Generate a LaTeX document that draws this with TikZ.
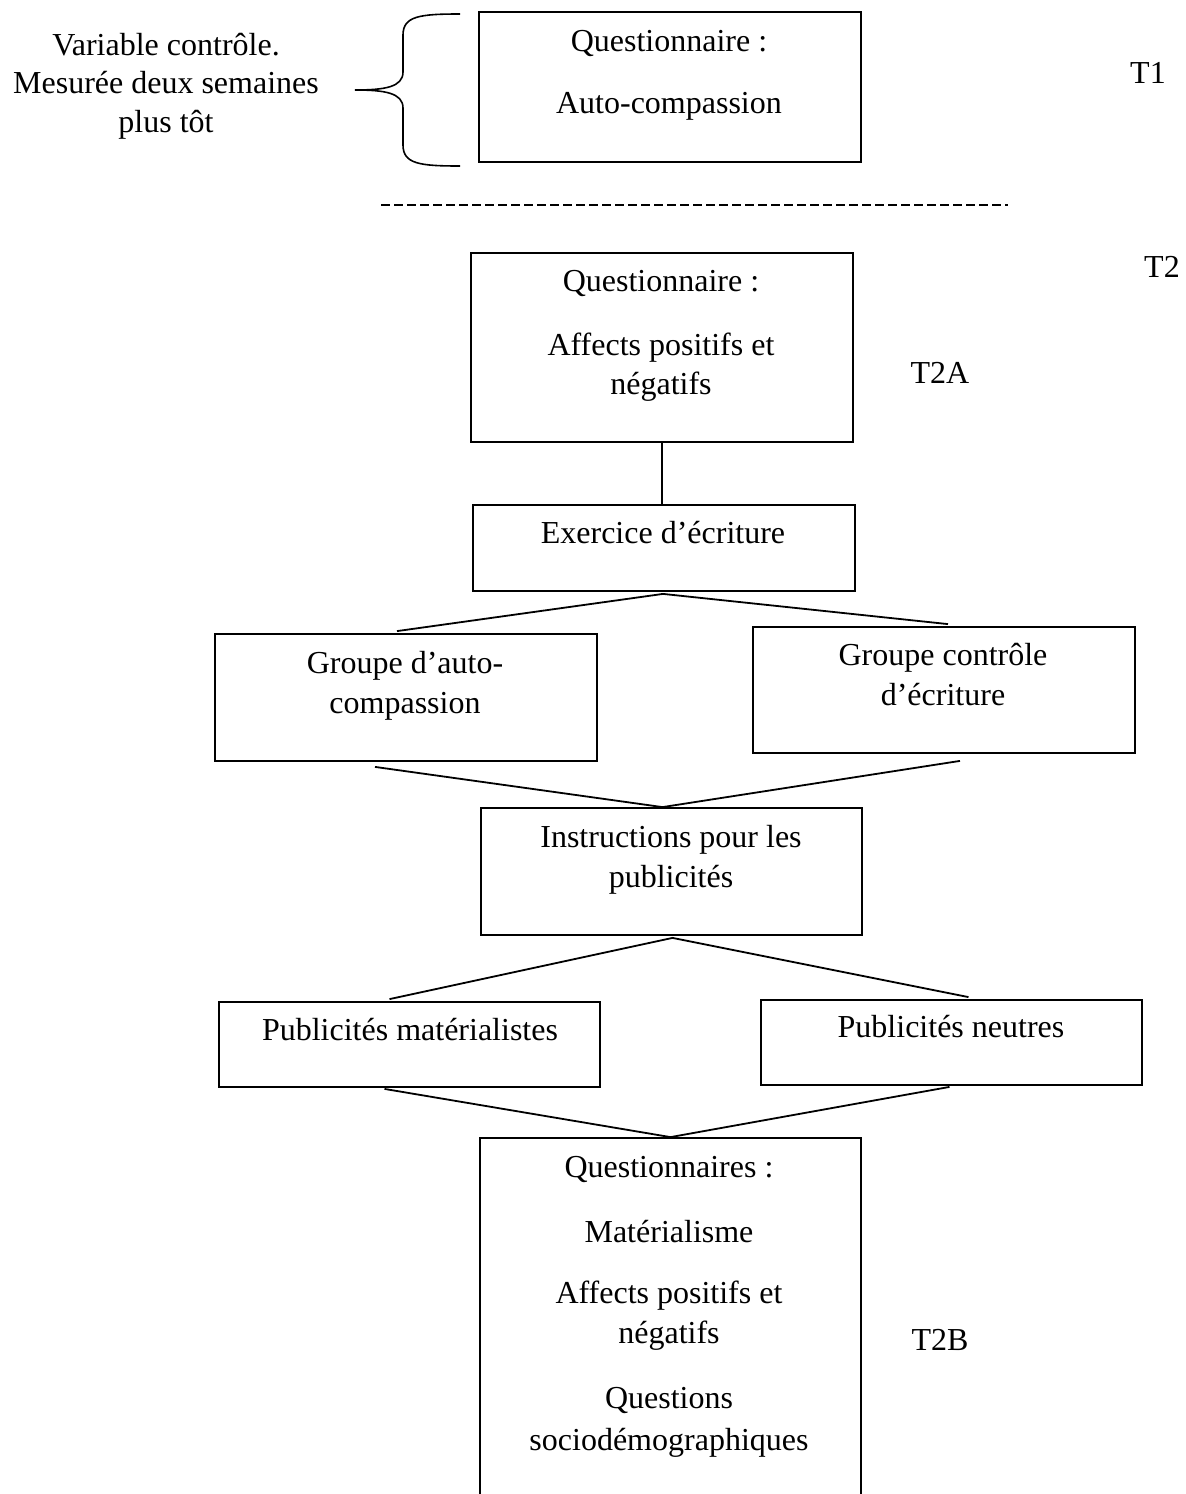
\documentclass[tikz,border=0pt]{standalone}
\usepackage{fontspec}
\setmainfont{Liberation Serif}
\usetikzlibrary{calc}
\begin{document}
\begin{tikzpicture}[x=1pt,y=-1pt,
  box/.style={draw, line width=1.8pt, inner sep=0pt, minimum width=382pt},
  txt/.style={inner sep=0pt, anchor=base, font=\fontsize{32}{40}\selectfont},
  conn/.style={line width=1.8pt}]
\useasboundingbox (0,0) rectangle (1186,1494);
% boxes
\node[box, minimum height=150pt] (q1) at (670,87) {};
\node[box, minimum height=189pt] (q2) at (662,347.5) {};
\node[box, minimum height=86pt] (ex) at (664,548) {};
\node[box, minimum height=127pt] (ga) at (406,697.5) {};
\node[box, minimum height=126pt] (gc) at (944,690) {};
\node[box, minimum width=381pt, minimum height=127pt] (ins) at (671.5,871.5) {};
\node[box, minimum width=381pt, minimum height=85pt] (pm) at (409.5,1044.5) {};
\node[box, minimum width=381pt, minimum height=85pt] (pn) at (951.5,1042.5) {};
\node[box, minimum width=381pt, minimum height=400pt] (qb) at (670.5,1338) {};
% texts in boxes
\node[txt] (q1a) at (669,51) {Questionnaire :};
\node[txt] (q1b) at (669,113) {Auto-compassion};
\node[txt] (q2a) at (661,291) {Questionnaire :};
\node[txt] (q2b) at (661,355) {Affects positifs et};
\node[txt] (q2c) at (661,394) {négatifs};
\node[txt] (exa) at (663,543) {Exercice d’écriture};
\node[txt] (gaa) at (405,673) {Groupe d’auto-};
\node[txt] (gab) at (405,713) {compassion};
\node[txt] (gca) at (943,665) {Groupe contrôle};
\node[txt] (gcb) at (943,705) {d’écriture};
\node[txt] (insa) at (671,847) {Instructions pour les};
\node[txt] (insb) at (671,887) {publicités};
\node[txt] (pma) at (410,1040) {Publicités matérialistes};
\node[txt] (pna) at (951,1037) {Publicités neutres};
\node[txt] (qba) at (669,1177) {Questionnaires :};
\node[txt] (qbb) at (669,1242) {Matérialisme};
\node[txt] (qbc) at (669,1303) {Affects positifs et};
\node[txt] (qbd) at (669,1343) {négatifs};
\node[txt] (qbe) at (669,1408) {Questions};
\node[txt] (qbf) at (669,1450) {sociodémographiques};
% side labels
\node[txt] (v1) at (166,55) {Variable contrôle.};
\node[txt] (v2) at (166,93) {Mesurée deux semaines};
\node[txt] (v3) at (166,132) {plus tôt};
\node[txt] (t1) at (1148,83) {T1};
\node[txt] (t2) at (1162,277) {T2};
\node[txt] (t2a) at (940,383) {T2A};
\node[txt] (t2b) at (940,1350) {T2B};
% brace
\draw[line width=1.6pt] (460,14) .. controls (420,14) and (403,16) .. (403,35)
  -- (403,72) .. controls (403,87) and (385,90) .. (355,90)
  .. controls (385,90) and (403,93) .. (403,108)
  -- (403,145) .. controls (403,164) and (420,166) .. (460,166);
% dashed separator
\coordinate (d1) at (381,205);
\coordinate (d2) at (1008,205);
\draw[line width=2pt, dash pattern=on 9pt off 4pt] (d1) -- (d2);
% connectors
\draw[conn] (q2.south) -- (q2.south |- ex.north);
\draw[conn] ($(ga.north)+(-9,-2)$) -- ($(ex.south)+(-1,2)$) -- ($(gc.north)+(4,-2)$);
\draw[conn] ($(ga.south)+(-31,5)$) -- ($(ins.north)+(-9,0)$) -- ($(gc.south)+(16,7)$);
\draw[conn] ($(pm.north)+(-20,-2)$) -- ($(ins.south)+(1,2)$) -- ($(pn.north)+(17,-2)$);
\draw[conn] ($(pm.south)+(-25,1)$) -- (qb.north) -- ($(pn.south)+(-2,1)$);
\end{tikzpicture}
\end{document}
